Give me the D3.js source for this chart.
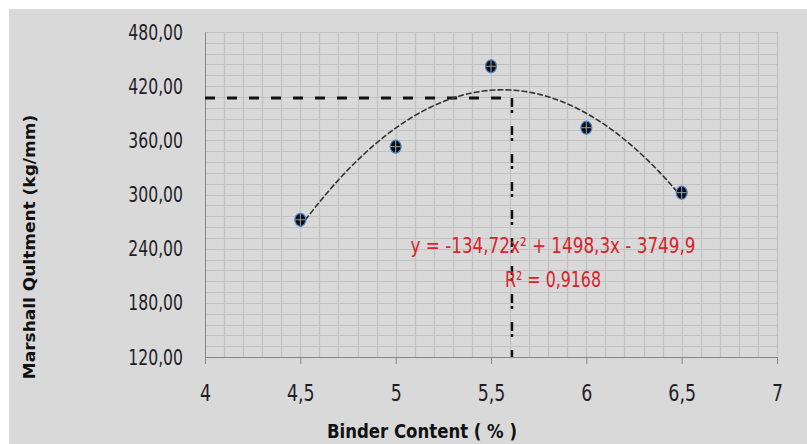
<!DOCTYPE html>
<html>
<head>
<meta charset="utf-8">
<script src="https://cdn.jsdelivr.net/npm/d3@7"></script>
<style>
  body { margin: 0; background: #fff; }
  text { font-family: 'Liberation Sans Narrow', 'DejaVu Sans Condensed', sans-serif; }
</style>
</head>
<body>
<div id="chart"></div>
<script>
// values
var binder = [4.5, 5, 5.5, 6, 6.5];
var quotient = [272, 353, 442, 374, 302];
var xTicks = [4, 4.5, 5, 5.5, 6, 6.5, 7];
var yTicks = [120, 180, 240, 300, 360, 420, 480];
var trendCoef = [-134.72, 1498.3, -3749.9];   // from the equation label
var optBinder = 5.61;
var optValue = 407;
var eqLines = ["y = -134,72x\u00b2 + 1498,3x - 3749,9", "R\u00b2 = 0,9168"];

const width = 807;
const height = 444;
const plotLeft = 205, plotRight = 777, plotTop = 32, plotBottom = 357;

var svg = d3.select('#chart').append('svg')
    .attr('width', width)
    .attr('height', height);

svg.append('rect')
    .attr('x', 9).attr('y', 9)
    .attr('width', width - 9).attr('height', height - 9)
    .attr('fill', '#d9d9d9');

var xScale = d3.scaleLinear().domain([4, 7]).range([plotLeft, plotRight]);
var yScale = d3.scaleLinear().domain([120, 480]).range([plotBottom, plotTop]);

var comma = d => String(d).replace('.', ',');

// squeeze text sideways, the original font is much narrower
function squeeze(sel, k) {
    sel.each(function () {
        var len = this.getComputedTextLength();
        d3.select(this).attr('textLength', len * k).attr('lengthAdjust', 'spacingAndGlyphs');
    });
}

//grids
var xGrid = d3.range(41, 71).map(d => d / 10);
var yGrid = d3.range(132, 481, 12);
var grid = svg.append('g').attr('stroke', '#c2c2c2').attr('stroke-width', 1.2);
grid.selectAll('.gx').data(xGrid).enter().append('line')
    .attr('x1', d => Math.round(xScale(d)) + 0.5).attr('x2', d => Math.round(xScale(d)) + 0.5)
    .attr('y1', plotTop).attr('y2', plotBottom);
grid.selectAll('.gy').data(yGrid).enter().append('line')
    .attr('y1', d => Math.round(yScale(d)) + 0.5).attr('y2', d => Math.round(yScale(d)) + 0.5)
    .attr('x1', plotLeft).attr('x2', plotRight);

// axes
var xAxis = d3.axisBottom(xScale).tickValues(xTicks).tickSize(7).tickSizeOuter(0).tickPadding(21)
    .tickFormat(comma);
var gx = svg.append('g')
    .attr('transform', `translate(0,${plotBottom})`)
    .call(xAxis);
gx.select('.domain').attr('stroke', '#868686');
gx.selectAll('.tick line').attr('stroke', '#868686');
gx.selectAll('.tick text')
    .style('font-size', '23px')
    .attr('fill', '#1e1e28')
    .call(squeeze, 0.84);

var yAxis = d3.axisLeft(yScale).tickValues(yTicks).tickSize(0).tickPadding(22)
    .tickFormat(d => d3.format('.2f')(d).replace('.', ','));
var gy = svg.append('g')
    .attr('transform', `translate(${plotLeft},0)`)
    .call(yAxis);
gy.select('.domain').attr('stroke', '#868686');
gy.selectAll('.tick text')
    .style('font-size', '22px')
    .attr('fill', '#1e1e28')
    .call(squeeze, 0.79);

// axis titles
svg.append('text')
    .attr('x', 422).attr('y', 438)
    .attr('text-anchor', 'middle')
    .style('font-size', '20px')
    .style('font-weight', 700)
    .attr('fill', '#111')
    .text('Binder Content ( % )')
    .attr('textLength', 190)
    .attr('lengthAdjust', 'spacingAndGlyphs');

svg.append('text')
    .attr('transform', 'translate(35,247) rotate(-90)')
    .attr('text-anchor', 'middle')
    .style('font-size', '16px')
    .style('font-weight', 700)
    .attr('fill', '#111')
    .text('Marshall Qultment (kg/mm)')
    .call(squeeze, 1.18);

// optimum guide lines
svg.append('line')
    .attr('x1', xScale(4)).attr('x2', xScale(optBinder))
    .attr('y1', yScale(optValue)).attr('y2', yScale(optValue))
    .attr('stroke', '#111').attr('stroke-width', 3)
    .attr('stroke-dasharray', '10,12');
svg.append('line')
    .attr('x1', xScale(optBinder)).attr('x2', xScale(optBinder))
    .attr('y1', yScale(optValue)).attr('y2', yScale(120))
    .attr('stroke', '#111').attr('stroke-width', 2.5)
    .attr('stroke-dasharray', '9,3,3,13');

// polynomial trendline
var trendX = d3.range(0, 101).map(i => 4.5 + i * 0.02);
var line = d3.line()
    .x(d => xScale(d))
    .y(d => yScale(trendCoef[0] * d * d + trendCoef[1] * d + trendCoef[2]));
svg.append('path')
    .attr('d', line(trendX))
    .attr('fill', 'none')
    .attr('stroke', '#333')
    .attr('stroke-width', 1.6)
    .attr('stroke-dasharray', '6,2');

// markers
var pts = svg.selectAll('.pt').data(binder).enter().append('g')
    .attr('transform', (d, i) => `translate(${xScale(d)},${yScale(quotient[i])})`);
pts.append('ellipse')
    .attr('rx', 5.5).attr('ry', 6.5)
    .attr('fill', '#0d0d12')
    .attr('stroke', '#4a86c8').attr('stroke-width', 1.2);
pts.append('line').attr('x1', -5).attr('x2', 5).attr('stroke', '#9aa2ad').attr('stroke-width', 1);
pts.append('line').attr('y1', -6).attr('y2', 6).attr('stroke', '#9aa2ad').attr('stroke-width', 1);

// equation label
var eqWidth = [285, 96];
svg.selectAll('.eq').data(eqLines).enter().append('text')
    .attr('x', 553)
    .attr('y', (d, i) => 253 + i * 34)
    .attr('text-anchor', 'middle')
    .style('font-size', '21px')
    .attr('fill', '#d8232a')
    .attr('textLength', (d, i) => eqWidth[i])
    .attr('lengthAdjust', 'spacingAndGlyphs')
    .text(d => d);
</script>
</body>
</html>
